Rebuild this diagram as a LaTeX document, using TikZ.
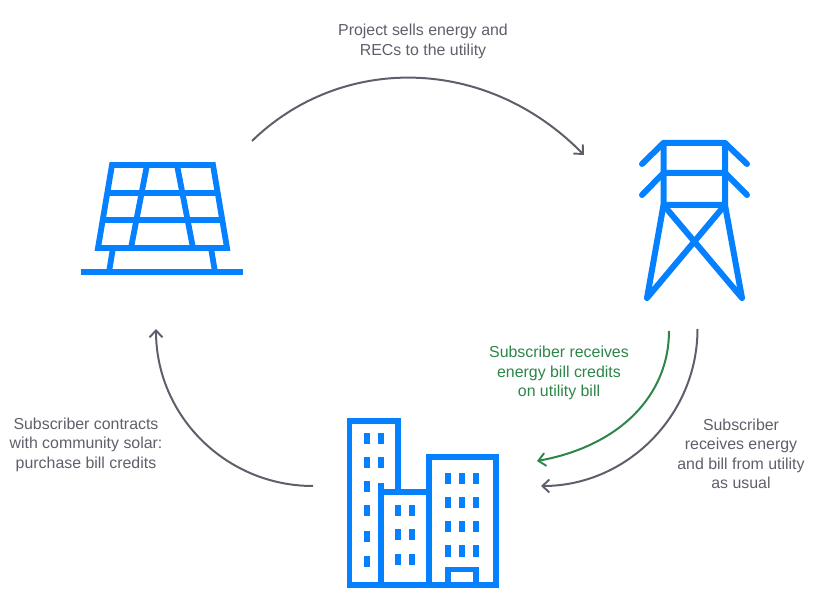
\documentclass[tikz,border=0pt]{standalone}
\usepackage{fontspec}
\setmainfont{Liberation Sans}
\usetikzlibrary{arrows.meta}
\definecolor{iconblue}{HTML}{0580FF}
\definecolor{flowgray}{HTML}{5F5F6B}
\definecolor{flowgreen}{HTML}{2C8549}
\definecolor{labelgray}{HTML}{5F5F6B}
\tikzset{
  icon/.style={draw=iconblue,line width=5.8pt,line join=miter},
  iconr/.style={draw=iconblue,line width=6pt,line cap=round,line join=round},
  win/.style={fill=iconblue,draw=none},
  flow/.style={line width=2pt,-{Straight Barb[length=7pt,width=13pt,line width=1.9pt]}},
  lab/.style={align=center,font=\fontsize{15.9}{19.5}\selectfont,text=labelgray,inner sep=0pt},
}
\newcommand{\winat}[2]{\fill[win] (#1-3,#2-5.5) rectangle (#1+3,#2+5.5);}
\begin{document}
\begin{tikzpicture}[x=1pt,y=-1pt]
\useasboundingbox (0,0) rectangle (831,612);
% solar panel
\draw[icon] (112,165) -- (213,165) -- (227,248) -- (98,248) -- cycle;
\draw[icon] (106,193) -- (219,193);
\draw[icon] (102,220) -- (223,220);
\draw[icon] (147,165) -- (131,248);
\draw[icon] (177,165) -- (193,248);
\draw[icon] (113,248) -- (109,272);
\draw[icon] (211,248) -- (215,272);
\draw[icon] (81,272) -- (243,272);
% tower
\draw[iconr] (642,164) -- (663.5,143) -- (725,143) -- (747,164);
\draw[iconr] (642,195) -- (663.5,173) -- (725,173) -- (747,195);
\draw[iconr] (663.5,143) -- (663.5,205) -- (647,298) -- (725,205) -- (663.5,205);
\draw[iconr] (725,143) -- (725,205) -- (742,298) -- (663.5,205);
% buildings
\draw[icon] (381,483) -- (381,585);
\draw[icon] (398,492) -- (398,421) -- (349.5,421) -- (349.5,585) -- (496,585) -- (496,457) -- (429,457) -- (429,585);
\draw[icon] (381,492) -- (429,492);
\draw[icon] (448,585) -- (448,569.5) -- (476,569.5) -- (476,585);
\winat{367}{439}\winat{381}{439}
\winat{367}{463}\winat{381}{463}
\winat{367}{487}
\winat{367}{511}
\winat{367}{537}
\winat{367}{561}
\foreach \wy in {511,535,559}{\winat{398}{\wy}\winat{412}{\wy}}
\foreach \wy in {479,503,527,551}{\winat{448}{\wy}\winat{462}{\wy}\winat{476}{\wy}}
% anchor points of the flows
\coordinate (topS) at (252,141);
\coordinate (topE) at (584,155);
\coordinate (grayS) at (697.5,329);
\coordinate (grayE) at (541,486);
\coordinate (greenS) at (669,331);
\coordinate (greenE) at (537,461);
\coordinate (leftS) at (313,486);
\coordinate (leftE) at (156,329);
% flows
\draw[flow,draw=flowgray] (topS) .. controls (340,55) and (485,54) .. (topE);
\draw[flow,draw=flowgray] (grayS) .. controls (697.5,415) and (627,486) .. (grayE);
\draw[flow,draw=flowgreen] (greenS) .. controls (669,395) and (620,446) .. (greenE);
\draw[flow,draw=flowgray] (leftS) .. controls (226,486) and (156,416) .. (leftE);
% labels
\node[lab] (l1) at (423,41.5) {Project sells energy and\\RECs to the utility};
\node[lab,text=flowgreen] (l2) at (559,373) {Subscriber receives\\energy bill credits\\on utility bill};
\node[lab] (l3) at (741,454) {Subscriber\\receives energy\\and bill from utility\\as usual};
\node[lab] (l4) at (86,444.5) {Subscriber contracts\\with community solar:\\purchase bill credits};
\end{tikzpicture}
\end{document}
